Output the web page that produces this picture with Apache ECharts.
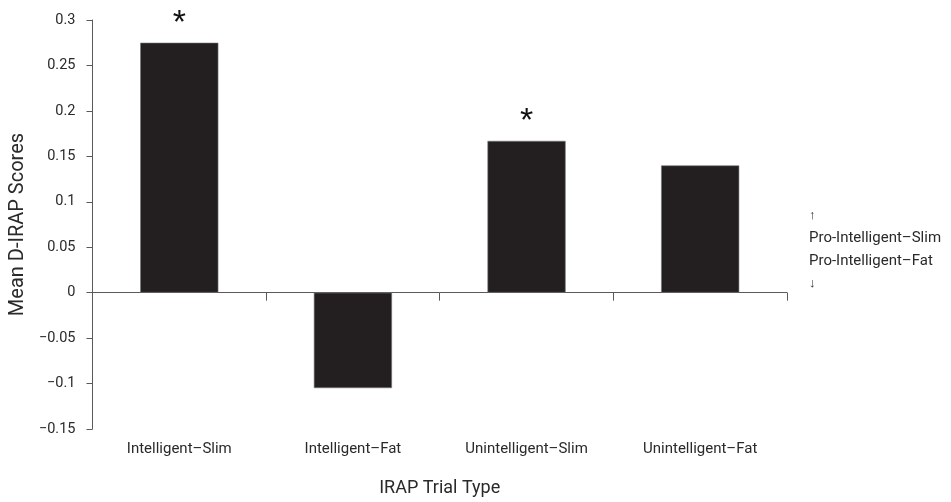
<!DOCTYPE html>
<html>
<head>
<meta charset="utf-8">
<script src="https://cdn.jsdelivr.net/npm/echarts@6/dist/echarts.min.js"></script>
<style>
  html, body { margin: 0; padding: 0; background: #fff; }
  #main { width: 951px; height: 502px; }
</style>
</head>
<body>
<div id="main"></div>
<script>
// trial types on the x axis
var categories = ['Intelligent\u2013Slim', 'Intelligent\u2013Fat', 'Unintelligent\u2013Slim', 'Unintelligent\u2013Fat'];
// mean D-IRAP scores
var scores = [0.275, -0.105, 0.167, 0.140];
// significance marks above bars
var marks = ['*', '', '*', ''];

var font = 'Roboto, "Liberation Sans", Arial, sans-serif';
var axisGrey = '#5a5a5a';

var myChart = echarts.init(document.getElementById('main'));

var option = {
  animation: false,
  textStyle: { fontFamily: font },
  grid: { left: 89, right: 164, top: 20, bottom: 73 },
  xAxis: [{
    // labels sit at the bottom of the plot
    type: 'category',
    data: categories,
    position: 'bottom',
    axisLine: { show: false, onZero: false },
    axisTick: { show: false },
    axisLabel: { color: '#2a2a2a', fontSize: 15, fontFamily: font, margin: 13 },
    name: 'IRAP Trial Type',
    nameLocation: 'middle',
    nameGap: 50,
    nameTextStyle: { color: '#2a2a2a', fontSize: 18, fontFamily: font }
  }, {
    // zero line with tick marks
    type: 'category',
    data: categories,
    position: 'bottom',
    axisLine: { show: true, onZero: true, lineStyle: { color: axisGrey, width: 1 } },
    axisTick: { show: true, inside: false, length: 8, lineStyle: { color: axisGrey } },
    axisLabel: { show: false }
  }],
  yAxis: {
    type: 'value',
    min: -0.15,
    max: 0.3,
    interval: 0.05,
    splitLine: { show: false },
    axisLine: { show: true, lineStyle: { color: axisGrey, width: 1 } },
    axisTick: { show: true, length: 6, lineStyle: { color: axisGrey } },
    axisLabel: {
      color: '#2a2a2a', fontSize: 14.5, fontFamily: font, margin: 17,
      formatter: function (v) {
        var s = String(Math.round(v * 100) / 100);
        return s.replace('-', '\u2212');
      }
    },
    name: 'Mean D-IRAP Scores',
    nameLocation: 'middle',
    nameGap: 64,
    nameTextStyle: { color: '#2a2a2a', fontSize: 20, fontFamily: font }
  },
  series: [{
    type: 'bar',
    xAxisIndex: 0,
    data: scores,
    barWidth: '45%',
    itemStyle: { color: '#231f20', borderColor: '#777', borderWidth: 0.6 },
    label: {
      show: true,
      position: 'top',
      distance: 2,
      color: '#111',
      fontSize: 34,
      fontFamily: '"Liberation Sans", Arial, sans-serif',
      formatter: function (p) { return marks[p.dataIndex]; }
    }
  }],
  graphic: [{
    type: 'group',
    left: 809,
    top: 209,
    children: [
      { type: 'text', x: 0, y: 0, style: { text: '\u2191', fontSize: 13, fill: '#2a2a2a', fontFamily: font } },
      { type: 'text', x: 0, y: 22, style: { text: 'Pro-Intelligent\u2013Slim', fontSize: 15, fill: '#2a2a2a', fontFamily: font } },
      { type: 'text', x: 0, y: 45, style: { text: 'Pro-Intelligent\u2013Fat', fontSize: 15, fill: '#2a2a2a', fontFamily: font } },
      { type: 'text', x: 0, y: 68, style: { text: '\u2193', fontSize: 13, fill: '#2a2a2a', fontFamily: font } }
    ]
  }]
};

myChart.setOption(option);
</script>
</body>
</html>
